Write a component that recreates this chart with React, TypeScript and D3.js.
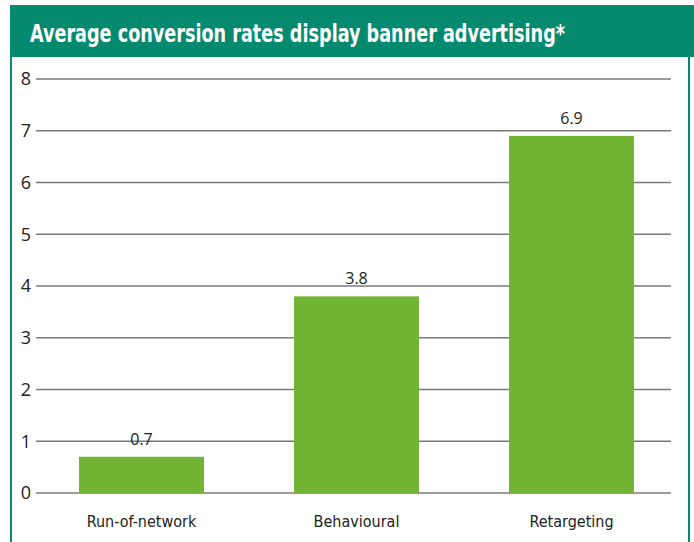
import React from "react";
import * as d3 from "d3";

const categories = ["Run-of-network", "Behavioural", "Retargeting"];
const values = [0.7, 3.8, 6.9];
const yTicks = [0, 1, 2, 3, 4, 5, 6, 7, 8];
const title = "Average conversion rates display banner advertising*";

const W = 694;
const H = 542;
const TEAL = "#068a6f";
const GREEN = "#72b433";

export default function App() {
  const x = d3
    .scaleBand<string>()
    .domain(categories)
    .range([34, 679])
    .paddingInner(0.4186)
    .paddingOuter(0.2093);
  const y = d3.scaleLinear().domain([0, 8]).range([493, 79]);
  const gridX0 = 36;
  const gridX1 = 671;

  return (
    <svg
      width={W}
      height={H}
      style={{ position: "absolute", left: 0, top: 0, display: "block" }}
    >
      <rect x={0} y={0} width={W} height={H} fill="#ffffff" />
      {/* header */}
      <rect x={10} y={5} width={W - 10} height={52} fill={TEAL} />
      <text
        x={30}
        y={42}
        fill="#ffffff"
        fontFamily="'DejaVu Sans Condensed', 'DejaVu Sans', sans-serif"
        fontWeight="bold"
        fontSize={24}
        textLength={535}
        lengthAdjust="spacingAndGlyphs"
      >
        {title}
      </text>
      {/* frame */}
      <line x1={11} x2={11} y1={57} y2={H} stroke={TEAL} strokeWidth={2} />
      <line x1={689} x2={689} y1={57} y2={H} stroke={TEAL} strokeWidth={2} />
      {/* grid + ticks */}
      {yTicks.map((t) => (
        <g key={t}>
          <line
            x1={gridX0}
            x2={gridX1}
            y1={y(t)}
            y2={y(t)}
            stroke="#7a7a7a"
            strokeWidth={1.5}
          />
          <text
            x={26}
            y={y(t)}
            dy="0.36em"
            textAnchor="middle"
            fill="#222"
            fontFamily="'Open Sans', sans-serif"
            fontSize={18}
          >
            {t}
          </text>
        </g>
      ))}
      {/* bars */}
      {categories.map((c, i) => (
        <g key={c}>
          <rect
            x={x(c)}
            y={y(values[i])}
            width={x.bandwidth()}
            height={y(0) - y(values[i])}
            fill={GREEN}
          />
          <text
            x={(x(c) as number) + x.bandwidth() / 2}
            y={y(values[i]) - 12}
            textAnchor="middle"
            fill="#222"
            fontFamily="'Open Sans', sans-serif"
            fontSize={16}
          >
            {values[i].toFixed(1)}
          </text>
          <text
            x={(x(c) as number) + x.bandwidth() / 2}
            y={527}
            textAnchor="middle"
            fill="#222"
            fontFamily="'DejaVu Sans Condensed', 'DejaVu Sans', sans-serif"
            fontSize={16}
          >
            {c}
          </text>
        </g>
      ))}
    </svg>
  );
}
